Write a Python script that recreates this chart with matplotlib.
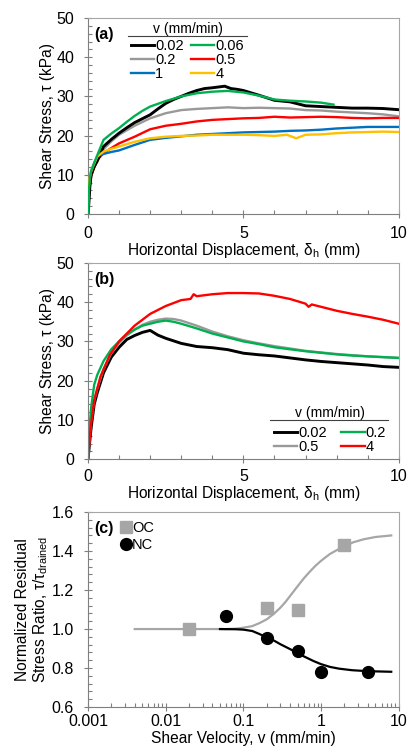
import numpy as np
import matplotlib.pyplot as plt
from matplotlib.ticker import MultipleLocator, LogLocator, NullFormatter, FixedLocator, FixedFormatter
from matplotlib.lines import Line2D

plt.rcParams['font.family'] = ['Liberation Sans', 'DejaVu Sans']
plt.rcParams['mathtext.fontset'] = 'custom'
plt.rcParams['mathtext.rm'] = 'Liberation Sans'
plt.rcParams['mathtext.it'] = 'Liberation Sans:italic'

# ---- panel (a): shear stress vs displacement, six rates ----
a_x_002 = [0, 0.03, 0.06, 0.1, 0.2, 0.3, 0.5, 0.75, 1, 1.25, 1.5, 1.75, 2, 2.25, 2.5, 2.75, 3, 3.25, 3.5, 3.75, 4,
           4.2, 4.4, 4.6, 4.8, 5, 5.5, 6, 6.5, 7, 7.5, 8, 8.5, 9, 9.5, 10]
a_y_002 = [0, 3, 7, 10, 12, 13.5, 17.2, 19, 20.6, 22, 23.3, 24.3, 25.3, 26.8, 28.2, 29.2, 30, 30.8, 31.5, 32, 32.2,
           32.4, 32.6, 32, 31.8, 31.5, 30.3, 29, 28.6, 27.6, 27.4, 27.2, 27, 27, 26.9, 26.6]
a_x_006 = [0, 0.03, 0.06, 0.1, 0.2, 0.3, 0.5, 0.75, 1, 1.25, 1.5, 1.75, 2, 2.5, 3, 3.5, 4, 4.5, 5, 5.5, 6, 6.5,
           7, 7.5, 7.9]
a_y_006 = [0, 6, 9, 11, 13, 15, 18.9, 20.5, 21.9, 23.5, 25, 26.3, 27.4, 28.8, 30, 30.8, 31.2, 31.4, 31, 30.2, 29.2,
           28.9, 28.7, 28.4, 27.9]
a_x_02 = [0, 0.03, 0.06, 0.1, 0.2, 0.3, 0.5, 0.75, 1, 1.5, 2, 2.5, 3, 3.5, 4, 4.5, 5, 5.5, 6, 6.5, 7, 7.5, 8,
          8.5, 9, 9.5, 10]
a_y_02 = [0, 5, 8, 10.5, 12.5, 14, 16.5, 18.5, 20.2, 22.5, 24.4, 25.7, 26.5, 26.8, 27, 27.2, 27, 27.1, 27, 26.9,
          26.5, 26.4, 26.1, 25.9, 25.7, 25.4, 24.9]
a_x_05 = [0, 0.03, 0.06, 0.1, 0.2, 0.3, 0.5, 0.75, 1, 1.5, 2, 2.5, 3, 3.5, 4, 4.5, 5, 5.5, 6, 6.5, 7, 7.5, 8,
          8.5, 9, 9.5, 10]
a_y_05 = [0, 4, 7, 9.5, 12, 13.8, 15.5, 16.8, 18, 19.7, 21.6, 22.5, 23, 23.6, 24, 24.2, 24.4, 24.5, 24.8, 24.6,
          24.7, 24.8, 24.7, 24.5, 24.4, 24.5, 24.5]
a_x_1 = [0, 0.03, 0.06, 0.1, 0.2, 0.3, 0.5, 0.75, 1, 1.5, 2, 2.5, 3, 3.5, 4, 4.5, 5, 5.5, 6, 6.5, 7, 7.5, 8,
         8.5, 9, 9.5, 10]
a_y_1 = [0, 5, 8, 10.5, 13, 14.6, 15.3, 15.8, 16.2, 17.6, 18.9, 19.4, 19.8, 20.2, 20.4, 20.6, 20.8, 20.9, 21,
         21.2, 21.3, 21.5, 21.8, 22, 22.2, 22.2, 22.2]
a_x_4 = [0, 0.02, 0.05, 0.1, 0.2, 0.3, 0.5, 0.75, 1, 1.5, 2, 2.5, 3, 3.5, 4, 4.5, 5, 5.5, 6, 6.4, 6.7, 7, 7.5,
         8, 8.5, 9, 9.5, 10]
a_y_4 = [0, 6, 9, 10.8, 12.8, 14.6, 15.9, 16.6, 17.2, 18.4, 19.3, 19.7, 19.9, 20, 20.2, 20.2, 20.2, 20.1, 19.9,
         20.2, 19.3, 20.2, 20.3, 20.6, 20.8, 20.9, 21, 20.9]

# ---- panel (b) ----
b_x_002 = [0, 0.05, 0.1, 0.2, 0.3, 0.5, 0.75, 1, 1.25, 1.5, 1.75, 2, 2.25, 2.5, 3, 3.5, 4, 4.5, 5, 5.5, 6, 6.5,
           7, 7.5, 8, 8.5, 9, 9.5, 10]
b_y_002 = [0, 4, 8, 14, 17, 22, 26, 28.5, 30.5, 31.5, 32.3, 32.8, 31.6, 30.8, 29.5, 28.7, 28.4, 27.9, 27, 26.6,
           26.3, 25.8, 25.3, 24.9, 24.6, 24.3, 24, 23.6, 23.4]
b_x_02 = [0, 0.05, 0.1, 0.2, 0.3, 0.5, 0.75, 1, 1.25, 1.5, 1.75, 2, 2.25, 2.5, 2.75, 3, 3.5, 4, 4.5, 5, 5.5, 6,
          6.5, 7, 7.5, 8, 8.5, 9, 9.5, 10]
b_y_02 = [0, 8, 13, 19, 21.5, 25, 28, 30, 31.8, 33, 34, 34.5, 35, 35.3, 35, 34.5, 33.3, 32, 31, 30, 29.3, 28.5,
          28, 27.5, 27.1, 26.7, 26.4, 26.2, 26, 25.8]
b_x_05 = [0, 0.05, 0.1, 0.2, 0.3, 0.5, 0.75, 1, 1.25, 1.5, 1.75, 2, 2.25, 2.5, 2.75, 3, 3.5, 4, 4.5, 5, 5.5, 6,
          6.5, 7, 7.5, 8, 8.5, 9, 9.5, 10]
b_y_05 = [0, 5, 10, 15, 18, 23, 27, 29.5, 31.5, 33, 34.2, 35, 35.5, 35.8, 35.7, 35.3, 34, 32.5, 31.3, 30.3, 29.5,
          28.8, 28.2, 27.6, 27.2, 26.8, 26.5, 26.2, 26, 25.8]
b_x_4 = [0, 0.05, 0.1, 0.2, 0.4, 0.7, 1, 1.5, 2, 2.5, 3, 3.3, 3.4, 3.5, 4, 4.5, 5, 5.5, 6, 6.5, 7, 7.1, 7.2,
         7.5, 8, 8.5, 9, 9.5, 10]
b_y_4 = [0, 5, 9, 15, 21, 26.5, 30, 34, 37, 39, 40.5, 40.8, 42, 41.5, 42, 42.3, 42.3, 42.2, 41.6, 40.8, 39.6,
         38.8, 39.4, 38.8, 37.8, 37, 36.3, 35.5, 34.5]

# ---- panel (c): normalized residual stress ratio ----
oc_v = [0.02, 0.2, 0.5, 2]
oc_ratio = [1.0, 1.11, 1.10, 1.43]
nc_v = [0.06, 0.2, 0.5, 1, 4]
nc_ratio = [1.065, 0.955, 0.885, 0.78, 0.78]
oc_fit_v = [0.004, 0.01, 0.03, 0.06, 0.08, 0.1, 0.13, 0.16, 0.2, 0.25, 0.3, 0.35, 0.4, 0.5, 0.6, 0.7, 0.85, 1.0,
            1.3, 1.6, 2.0, 2.6, 3.5, 5, 8]
oc_fit_r = [1.0, 1.0, 1.0, 1.0, 1.002, 1.007, 1.015, 1.03, 1.05, 1.08, 1.11, 1.14, 1.17, 1.22, 1.26, 1.29, 1.325,
            1.35, 1.385, 1.405, 1.425, 1.445, 1.46, 1.472, 1.48]
nc_fit_v = [0.05, 0.08, 0.1, 0.13, 0.16, 0.2, 0.25, 0.3, 0.4, 0.5, 0.6, 0.8, 1.0, 1.3, 1.7, 2.5, 4, 8]
nc_fit_r = [1.0, 0.999, 0.997, 0.99, 0.975, 0.957, 0.94, 0.922, 0.897, 0.877, 0.86, 0.836, 0.82, 0.806, 0.797,
            0.789, 0.784, 0.781]

black = '#000000'
green = '#00b050'
grey = '#999999'
red = '#ff0000'
blue = '#0070c0'
yellow = '#ffc000'
lgrey = '#a6a6a6'

fig = plt.figure(figsize=(4.1, 7.53), dpi=100)
ax1 = fig.add_axes([0.2146, 0.716, 0.758, 0.260])
ax2 = fig.add_axes([0.2146, 0.390, 0.758, 0.261])
ax3 = fig.add_axes([0.2146, 0.061, 0.758, 0.259])

lw = 1.7
ax1.plot(a_x_002, a_y_002, color=black, lw=2.1, label='0.02', zorder=3)
ax1.plot(a_x_006, a_y_006, color=green, lw=lw, label='0.06', zorder=4)
ax1.plot(a_x_02, a_y_02, color=grey, lw=lw, label='0.2', zorder=2)
ax1.plot(a_x_05, a_y_05, color=red, lw=lw, label='0.5', zorder=2)
ax1.plot(a_x_1, a_y_1, color=blue, lw=lw, label='1', zorder=2)
ax1.plot(a_x_4, a_y_4, color=yellow, lw=lw, label='4', zorder=3)

ax2.plot(b_x_002, b_y_002, color=black, lw=2.1, label='0.02')
ax2.plot(b_x_05, b_y_05, color=grey, lw=lw, label='0.5')
ax2.plot(b_x_02, b_y_02, color=green, lw=lw, label='0.2')
ax2.plot(b_x_4, b_y_4, color=red, lw=lw, label='4')

ax3.plot(oc_fit_v, oc_fit_r, color=lgrey, lw=1.6)
ax3.plot(nc_fit_v, nc_fit_r, color=black, lw=1.6)
ax3.plot(oc_v, oc_ratio, 's', color=lgrey, ms=8, ls='none', label='OC')
ax3.plot(nc_v, nc_ratio, 'o', color=black, ms=8.5, ls='none', label='NC')

fs_tick = 11.5
fs_lab = 11.2

for ax in (ax1, ax2):
    ax.set_xlim(0, 10)
    ax.set_ylim(0, 50)
    ax.xaxis.set_major_locator(MultipleLocator(5))
    ax.xaxis.set_minor_locator(MultipleLocator(1))
    ax.yaxis.set_major_locator(MultipleLocator(10))
    ax.yaxis.set_minor_locator(MultipleLocator(2))
    ax.set_xlabel('Horizontal Displacement, δ$_\\mathregular{h}$ (mm)', fontsize=fs_lab, labelpad=0)
    ax.set_ylabel('Shear Stress, τ (kPa)', fontsize=fs_lab, labelpad=1)

ax3.set_xscale('log')
ax3.set_xlim(0.001, 10)
ax3.set_ylim(0.6, 1.6)
ax3.xaxis.set_major_locator(FixedLocator([0.001, 0.01, 0.1, 1, 10]))
ax3.xaxis.set_major_formatter(FixedFormatter(['0.001', '0.01', '0.1', '1', '10']))
ax3.xaxis.set_minor_locator(LogLocator(base=10, subs=np.arange(2, 10), numticks=20))
ax3.xaxis.set_minor_formatter(NullFormatter())
ax3.yaxis.set_major_locator(MultipleLocator(0.2))
ax3.yaxis.set_minor_locator(MultipleLocator(0.04))
ax3.yaxis.set_major_formatter(plt.FuncFormatter(lambda v, p: '%.1f' % v))
ax3.set_xlabel('Shear Velocity, v (mm/min)', fontsize=fs_lab, labelpad=1.5)
ax3.set_ylabel('Normalized Residual\nStress Ratio, τ/τ$_\\mathregular{drained}$', fontsize=fs_lab,
               labelpad=1, linespacing=1.1)

for ax in (ax1, ax2, ax3):
    ax.tick_params(which='major', direction='inout', length=6, width=0.8, color='#7f7f7f',
                   labelsize=fs_tick)
    ax.tick_params(which='minor', direction='in', length=3, width=0.8, color='#7f7f7f')
    ax.tick_params(axis='y', which='major', pad=7)
    for s in ('left', 'bottom'):
        ax.spines[s].set_color('#7f7f7f')
    for s in ('top', 'right'):
        ax.spines[s].set_color('#a6a6a6')
ax1.tick_params(axis='x', which='major', pad=6)
ax2.tick_params(axis='x', which='major', pad=4)
ax3.tick_params(axis='x', which='major', pad=2)

ax1.text(0.02, 0.955, '(a)', transform=ax1.transAxes, fontsize=11.5, fontweight='bold', va='top')
ax2.text(0.02, 0.955, '(b)', transform=ax2.transAxes, fontsize=11.5, fontweight='bold', va='top')
ax3.text(0.02, 0.955, '(c)', transform=ax3.transAxes, fontsize=11.5, fontweight='bold', va='top')

# legend (a): columns 0.02/0.2/1 and 0.06/0.5/4
h, l = ax1.get_legend_handles_labels()
order = [0, 2, 4, 1, 3, 5]
leg1 = ax1.legend([h[i] for i in order], [l[i] for i in order], ncol=2, title='v (mm/min)',
                  loc='upper left', bbox_to_anchor=(0.12, 1.01), frameon=False, fontsize=10.5,
                  title_fontsize=10, handlelength=1.6, handletextpad=0.05, columnspacing=0.5,
                  labelspacing=0.0, borderaxespad=0)
leg1._legend_box.sep = 2
ax1.add_line(Line2D([0.129, 0.511], [0.908, 0.908], transform=ax1.transAxes, color='#404040', lw=0.8))

h, l = ax2.get_legend_handles_labels()
order = [0, 1, 2, 3]
leg2 = ax2.legend([h[i] for i in order], [l[i] for i in order], ncol=2, title='v (mm/min)',
                  loc='lower left', bbox_to_anchor=(0.58, -0.005), frameon=False, fontsize=10.5,
                  title_fontsize=10, handlelength=1.6, handletextpad=0.05, columnspacing=1.0,
                  labelspacing=0.0, borderaxespad=0)
leg2._legend_box.sep = 5
ax2.add_line(Line2D([0.585, 0.965], [0.199, 0.199], transform=ax2.transAxes, color='#404040', lw=0.8))

ax3.legend(loc='upper left', bbox_to_anchor=(0.08, 1.0), frameon=False, fontsize=10.5,
           handlelength=0.6, handletextpad=0.1, labelspacing=0.25, borderaxespad=0.2)

fig.savefig('out.png', dpi=100)
